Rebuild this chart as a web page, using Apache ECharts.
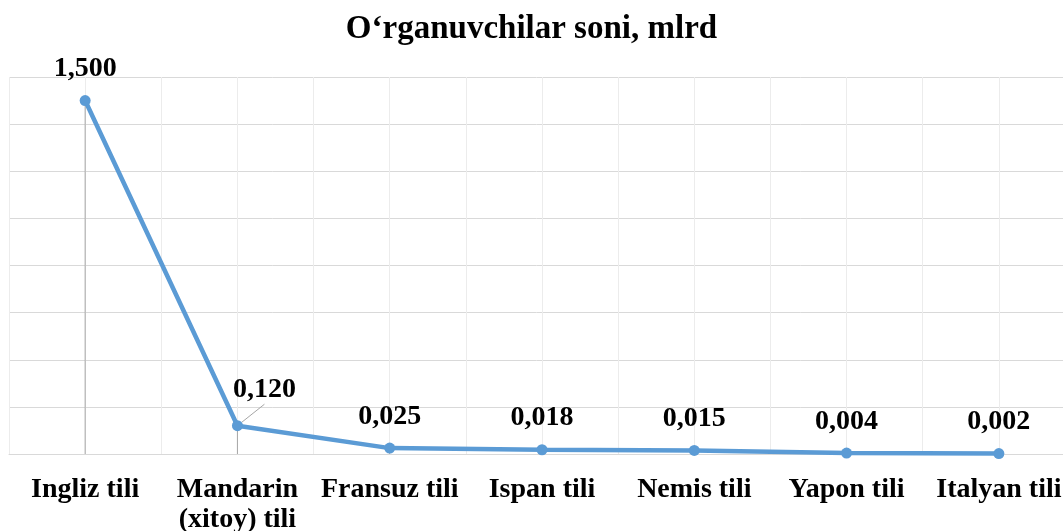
<!DOCTYPE html>
<html>
<head>
<meta charset="utf-8">
<script src="https://cdn.jsdelivr.net/npm/echarts@6/dist/echarts.min.js"></script>
<style>
html,body{margin:0;padding:0;background:#fff;overflow:hidden;}
#chart{width:1063px;height:531px;}
</style>
</head>
<body>
<div id="chart"></div>
<script>
var titleText = 'O‘rganuvchilar soni, mlrd';
var categories = ['Ingliz tili', 'Mandarin\n(xitoy) tili', 'Fransuz tili', 'Ispan tili', 'Nemis tili', 'Yapon tili', 'Italyan tili'];
var values = [1.5, 0.12, 0.025, 0.018, 0.015, 0.004, 0.002];
var yMin = 0, yMax = 1.6, yStep = 0.2;

var fontFam = '"Liberation Serif", "Times New Roman", serif';
var halfCats = [];
for (var i = 0; i < categories.length * 2; i++) halfCats.push('');

var lineData = values.map(function (v, i) {
  if (i === 1) {
    return { value: v, labelLine: { show: true, lineStyle: { color: '#a6a6a6', width: 1 } } };
  }
  return v;
});

var chart = echarts.init(document.getElementById('chart'), null, { renderer: 'canvas' });
chart.setOption({
  animation: false,
  backgroundColor: '#fff',
  title: {
    text: titleText,
    left: 'center',
    top: 8,
    textStyle: { fontFamily: fontFam, fontSize: 33, fontWeight: 'bold', color: '#000' }
  },
  grid: { left: 9, top: 77, width: 1066, height: 377, containLabel: false, outerBoundsMode: 'none' },
  xAxis: [
    {
      type: 'category',
      data: categories,
      boundaryGap: true,
      axisTick: { show: false },
      axisLine: { show: true, lineStyle: { color: '#d9d9d9', width: 1 } },
      splitLine: { show: false },
      axisLabel: {
        interval: 0,
        margin: 21,
        fontFamily: fontFam,
        fontSize: 28,
        fontWeight: 'bold',
        color: '#000',
        lineHeight: 30
      }
    },
    {
      type: 'category',
      data: halfCats,
      boundaryGap: true,
      position: 'bottom',
      axisTick: { show: false },
      axisLine: { show: false },
      axisLabel: { show: false, interval: 0 },
      splitLine: { show: true, interval: 0, lineStyle: { color: '#ececec', width: 1 } }
    }
  ],
  yAxis: {
    type: 'value',
    min: yMin,
    max: yMax,
    interval: yStep,
    axisLabel: { show: false },
    axisLine: { show: false },
    axisTick: { show: false },
    splitLine: { show: true, lineStyle: { color: '#d9d9d9', width: 1 } }
  },
  series: [
    {
      type: 'bar',
      xAxisIndex: 0,
      data: values,
      barWidth: 1,
      itemStyle: { color: '#a6a6a6' },
      silent: true,
      z: 1
    },
    {
      type: 'line',
      xAxisIndex: 0,
      data: lineData,
      symbol: 'circle',
      symbolSize: 11,
      lineStyle: { color: '#5b9bd5', width: 4.5 },
      itemStyle: { color: '#5b9bd5' },
      z: 3,
      label: {
        show: true,
        position: 'top',
        distance: 12,
        fontFamily: fontFam,
        fontSize: 28,
        fontWeight: 'bold',
        color: '#000',
        formatter: function (p) { return p.value.toFixed(3).replace('.', ','); }
      },
      labelLayout: function (p) {
        if (p.dataIndex === 1) return { dx: 27, dy: -4 };
        return {};
      }
    }
  ]
});
</script>
</body>
</html>
